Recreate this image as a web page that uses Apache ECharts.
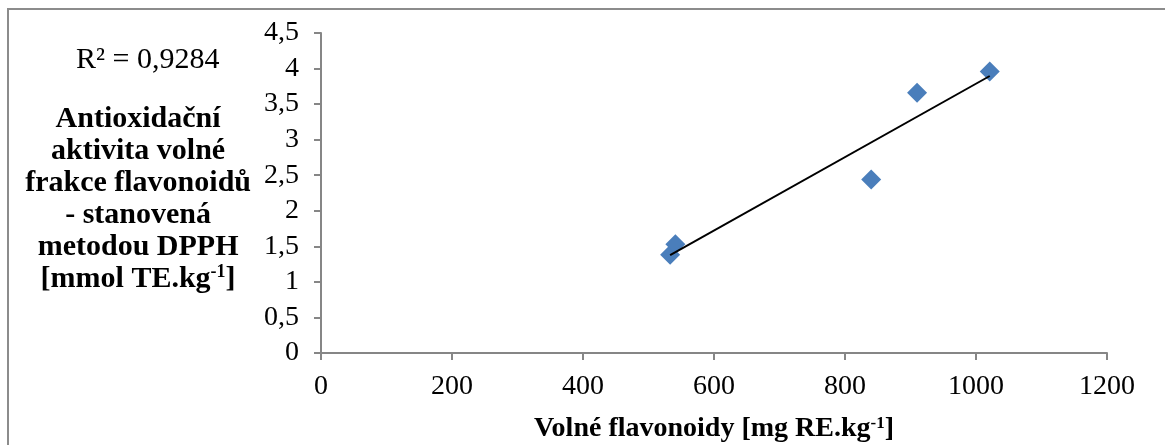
<!DOCTYPE html>
<html>
<head>
<meta charset="utf-8">
<script src="https://cdn.jsdelivr.net/npm/echarts@6/dist/echarts.min.js"></script>
<style>
  html, body { margin: 0; padding: 0; background: #fff; }
  #chart { width: 1165px; height: 445px; }
</style>
</head>
<body>
<div id="chart"></div>
<script>
// volné flavonoidy [mg RE/kg] vs. DPPH aktivita [mmol TE/kg]
const flavonoidy = [533, 541, 840, 910, 1021];
const dpph = [1.38, 1.53, 2.44, 3.66, 3.96];
const xTicks = [0, 1200, 200];
const yTicks = [0, 4.5, 0.5];
const r2Text = 'R² = 0,9284';

const serif = '"Liberation Serif", "Times New Roman", serif';
const axisGray = '#868686';

// lineární trend (nejmenší čtverce) z naměřených bodů
const n = flavonoidy.length;
const mx = flavonoidy.reduce((a, b) => a + b, 0) / n;
const my = dpph.reduce((a, b) => a + b, 0) / n;
let sxy = 0, sxx = 0;
for (let i = 0; i < n; i++) {
  sxy += (flavonoidy[i] - mx) * (dpph[i] - my);
  sxx += (flavonoidy[i] - mx) ** 2;
}
const slope = sxy / sxx;
const intercept = my - slope * mx;
const xMin = Math.min(...flavonoidy);
const xMax = Math.max(...flavonoidy);
const trend = [[xMin, intercept + slope * xMin], [xMax, intercept + slope * xMax]];

const points = flavonoidy.map((x, i) => [x, dpph[i]]);

const myChart = echarts.init(document.getElementById('chart'));

const option = {
  animation: false,
  backgroundColor: '#fff',
  textStyle: { fontFamily: serif },
  graphic: [
    {
      type: 'rect',
      shape: { x: 8, y: 9, width: 1200, height: 500 },
      style: { fill: 'none', stroke: '#8c8c8c', lineWidth: 2 },
      silent: true
    }
  ],
  title: {
    text: r2Text,
    left: 76,
    top: 45,
    padding: 0,
    textStyle: { fontFamily: serif, fontSize: 30, fontWeight: 'normal', color: '#000' }
  },
  grid: { left: 321, right: 58, top: 33, bottom: 92, outerBoundsMode: 'none' },
  xAxis: {
    type: 'value',
    min: xTicks[0],
    max: xTicks[1],
    interval: xTicks[2],
    splitLine: { show: false },
    axisLine: { show: true, lineStyle: { color: axisGray, width: 2 } },
    axisTick: { show: true, length: 7, lineStyle: { color: axisGray, width: 2 } },
    axisLabel: {
      color: '#000', fontFamily: serif, fontSize: 28, margin: 20,
      formatter: v => String(v)
    },
    name: 'Volné flavonoidy [mg RE.kg{sup|-1}]',
    nameLocation: 'middle',
    nameGap: 62,
    nameTextStyle: {
      color: '#000', fontFamily: serif, fontSize: 28, fontWeight: 'bold',
      rich: {
        sup: { fontFamily: serif, fontSize: 17, fontWeight: 'bold', color: '#000', verticalAlign: 'top', padding: [0, 0, 10, 0] }
      }
    }
  },
  yAxis: {
    type: 'value',
    min: yTicks[0],
    max: yTicks[1],
    interval: yTicks[2],
    splitLine: { show: false },
    axisLine: { show: true, lineStyle: { color: axisGray, width: 2 } },
    axisTick: { show: true, length: 7, lineStyle: { color: axisGray, width: 2 } },
    axisLabel: {
      color: '#000', fontFamily: serif, fontSize: 28, margin: 22,
      formatter: v => String(v).replace('.', ',')
    },
    name: [
      '{c|Antioxidační}',
      '{c|aktivita volné}',
      '{c|frakce flavonoidů}',
      '{c|- stanovená}',
      '{c|metodou DPPH}',
      '{c|[mmol TE.kg}{s|-1}{c|]}'
    ].join('\n'),
    nameLocation: 'middle',
    nameRotate: 0,
    nameGap: 70,
    nameTextStyle: {
      color: '#000', fontFamily: serif, fontSize: 30, fontWeight: 'bold',
      lineHeight: 32, padding: [12, 0, 0, 0],
      rich: {
        c: { align: 'center', fontFamily: serif, fontSize: 30, fontWeight: 'bold', color: '#000', lineHeight: 32 },
        s: { align: 'center', fontFamily: serif, fontSize: 18, fontWeight: 'bold', color: '#000', verticalAlign: 'top', lineHeight: 20 }
      }
    }
  },
  series: [
    {
      name: 'DPPH',
      type: 'scatter',
      symbol: 'diamond',
      symbolSize: 20,
      itemStyle: { color: '#4a7ebb', opacity: 1 },
      data: points,
      z: 2
    },
    {
      name: 'Lineární trend',
      type: 'line',
      symbol: 'none',
      lineStyle: { color: '#000', width: 2 },
      data: trend,
      z: 3
    }
  ]
};

myChart.setOption(option);
</script>
</body>
</html>
